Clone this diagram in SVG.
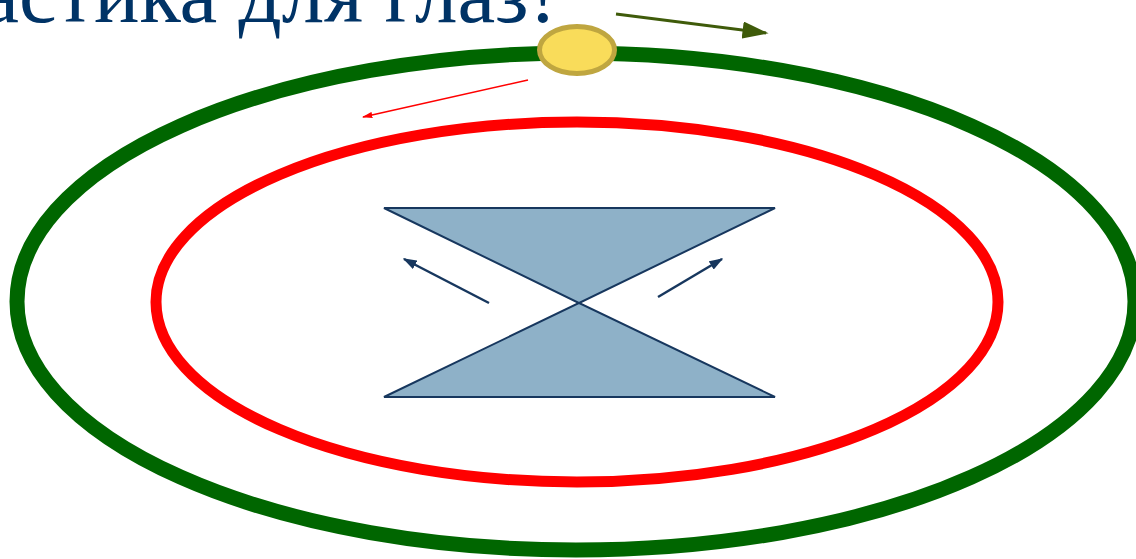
<svg xmlns="http://www.w3.org/2000/svg" width="1136" height="559" viewBox="0 0 1136 559">
<style>
.title{font-family:"Liberation Serif",serif;font-size:85px;fill:#003366}
.navy{stroke:#17375E;fill:none}
</style>
<defs>
<marker id="hOlive" viewBox="0 0 10 6.6" refX="9" refY="3.3" markerWidth="8.7" markerHeight="5.75" markerUnits="strokeWidth" orient="auto"><path d="M0,0 L10,3.3 L0,6.6 z" fill="#3F5B0A"/></marker>
<marker id="hRed" viewBox="0 0 10 6" refX="9" refY="3" markerWidth="6.5" markerHeight="3.9" markerUnits="strokeWidth" orient="auto"><path d="M0,0 L10,3 L0,6 z" fill="#FF0000"/></marker>
<marker id="hNavy" viewBox="0 0 10 7" refX="9" refY="3.5" markerWidth="5.6" markerHeight="3.9" markerUnits="strokeWidth" orient="auto"><path d="M0,0 L10,3.5 L0,7 z" fill="#17375E"/></marker>
</defs>
<text class="title" x="557" y="22" text-anchor="end">Гимнастика для глаз!</text>
<g id="outer-orbit"><ellipse cx="576" cy="301.5" rx="559" ry="248.5" fill="none" stroke="#006600" stroke-width="15"/></g>
<g id="inner-orbit"><ellipse cx="577" cy="302" rx="421" ry="180" fill="none" stroke="#FF0000" stroke-width="11"/></g>
<g id="bowtie"><path d="M384,208 L775,208 L579,303 L775,397 L384,397 L579,303 Z" fill="#8EB1C8" stroke="#17375E" stroke-width="2" stroke-linejoin="miter"/></g>
<g id="sun"><ellipse cx="577" cy="50" rx="37.5" ry="23.5" fill="#F9DC5A" stroke="#BFA640" stroke-width="5"/></g>
<g id="connectors">
<line x1="616" y1="14" x2="766" y2="33" stroke="#3F5B0A" stroke-width="3" marker-end="url(#hOlive)"/>
<line x1="528" y1="80" x2="363" y2="117" stroke="#FF0000" stroke-width="1.6" marker-end="url(#hRed)"/>
<line class="navy" x1="489" y1="303" x2="404" y2="259" stroke-width="2.5" marker-end="url(#hNavy)"/>
<line class="navy" x1="658" y1="297" x2="722" y2="259" stroke-width="2.5" marker-end="url(#hNavy)"/>
</g>
</svg>
